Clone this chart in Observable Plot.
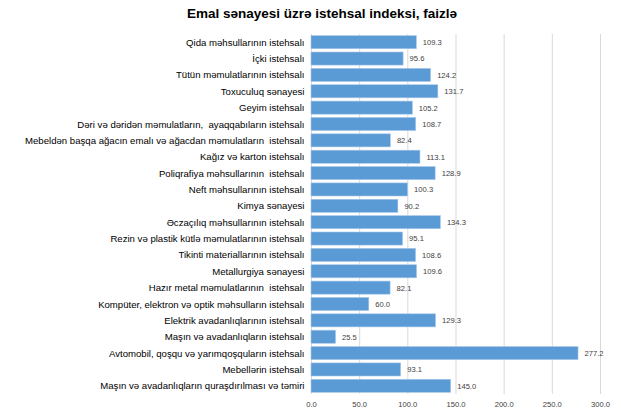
<!DOCTYPE html>
<html>
<head>
<meta charset="utf-8">
<script src="https://cdn.jsdelivr.net/npm/d3@7"></script>
<script src="https://cdn.jsdelivr.net/npm/@observablehq/plot@0.6"></script>
<style>
  body { margin: 0; background: #fff; font-family: "Liberation Sans", Arial, sans-serif; }
  #title { height: 28px; width: 621px; box-sizing: border-box; padding-left: 23px; text-align: center; font-weight: bold; font-size: 13.5px; line-height: 27px; color: #000; }
  svg { display: block; }
</style>
</head>
<body>
<div id="title">Emal sənayesi üzrə istehsal indeksi, faizlə</div>
<div id="chart"></div>
<script>
const categories = [
  "Qida məhsullarının istehsalı",
  "İçki istehsalı",
  "Tütün məmulatlarının istehsalı",
  "Toxuculuq sənayesi",
  "Geyim istehsalı",
  "Dəri və dəridən məmulatların,  ayaqqabıların istehsalı",
  "Mebeldən başqa ağacın emalı və ağacdan məmulatların  istehsalı",
  "Kağız və karton istehsalı",
  "Poliqrafiya məhsullarının  istehsalı",
  "Neft məhsullarının istehsalı",
  "Kimya sənayesi",
  "Əczaçılıq məhsullarının istehsalı",
  "Rezin və plastik kütlə məmulatlarının istehsalı",
  "Tikinti materiallarının istehsalı",
  "Metallurgiya sənayesi",
  "Hazır metal məmulatlarının  istehsalı",
  "Kompüter, elektron və optik məhsulların istehsalı",
  "Elektrik avadanlıqlarının istehsalı",
  "Maşın və avadanlıqların istehsalı",
  "Avtomobil, qoşqu və yarımqoşquların istehsalı",
  "Mebellərin istehsalı",
  "Maşın və avadanlıqların quraşdırılması və təmiri"
];
const values = [109.3, 95.6, 124.2, 131.7, 105.2, 108.7, 82.4, 113.1, 128.9, 100.3, 90.2, 134.3, 95.1, 108.6, 109.6, 82.1, 60.0, 129.3, 25.5, 277.2, 93.1, 145.0];
const xTicks = [0, 50, 100, 150, 200, 250, 300];

const data = categories.map((c, i) => ({category: c, value: values[i]}));

const chart = Plot.plot({
  width: 621,
  height: 387,
  marginLeft: 311,
  marginRight: 21,
  marginTop: 6,
  marginBottom: 21,
  style: {fontFamily: "Liberation Sans, Arial, sans-serif", background: "#fff"},
  x: {domain: [0, 300], ticks: xTicks, tickFormat: d => d.toFixed(1), label: null},
  y: {domain: categories, label: null, paddingInner: 0.2, paddingOuter: 0.1, round: false},
  marks: [
    Plot.ruleX(xTicks, {stroke: "#d9d9d9", strokeWidth: 1}),
    Plot.barX(data, {x: "value", y: "category", fill: "#5b9bd5", stroke: "#a9c8ea", strokeWidth: 0.6}),
    Plot.text(data, {x: "value", y: "category", text: d => d.value.toFixed(1), textAnchor: "start", dx: 6, fontSize: 7.6, fill: "#404040"}),
    Plot.axisX({ticks: xTicks, tickFormat: d => d.toFixed(1), tickSize: 0, tickPadding: 7, fontSize: 7.6, fill: "#404040", label: null}),
    Plot.axisY({tickSize: 0, tickPadding: 7, fontSize: 9.6, fill: "#000", label: null})
  ]
});
document.getElementById("chart").appendChild(chart);
</script>
</body>
</html>
